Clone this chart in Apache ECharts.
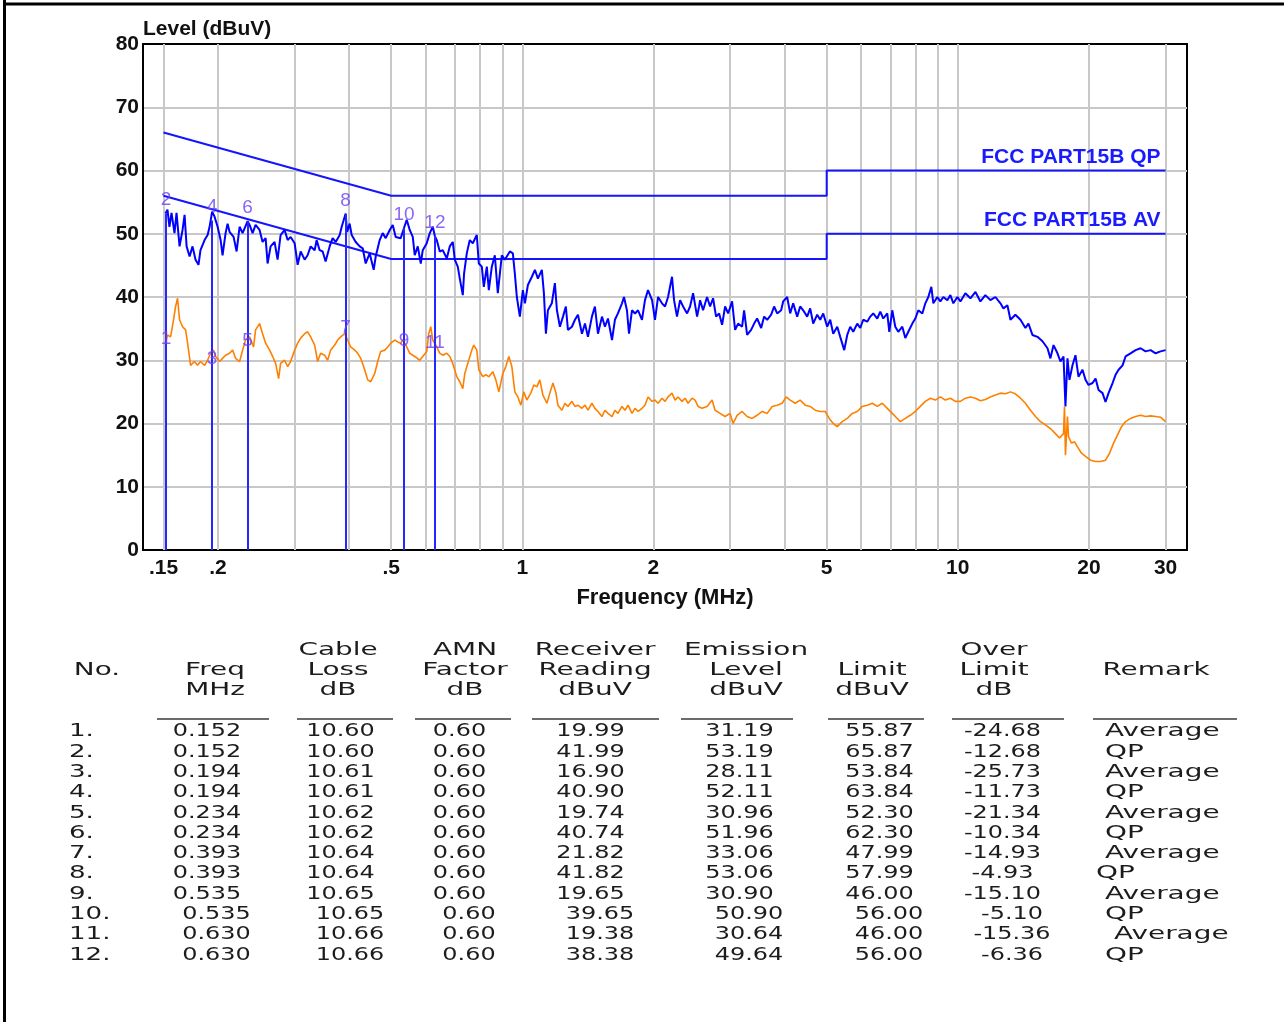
<!DOCTYPE html>
<html><head><meta charset="utf-8">
<script src="https://cdn.jsdelivr.net/npm/echarts@6/dist/echarts.min.js"></script>
<style>html,body{margin:0;padding:0;background:#fff;}#c{width:1284px;height:1022px;}</style>
</head><body><div id="c"></div>
<script>
// ---------- DATA ----------
const qpFreq = [
0.1516,0.1532,0.1548,0.1565,0.1590,0.1607,0.1633,0.1659,0.1677,0.1695,
0.1722,0.1749,0.1777,0.1805,0.1824,0.1864,0.1894,0.1914,0.1940,0.1965,
0.1997,0.2029,0.2050,0.2083,0.2105,0.2127,0.2173,0.2208,0.2243,0.2279,
0.2340,0.2365,0.2403,0.2441,0.2493,0.2533,0.2574,0.2601,0.2643,0.2699,
0.2742,0.2786,0.2846,0.2892,0.2938,0.3001,0.3049,0.3098,0.3164,0.3214,
0.3266,0.3336,0.3371,0.3425,0.3480,0.3535,0.3611,0.3669,0.3728,0.3808,
0.3849,0.3930,0.3960,0.4014,0.4057,0.4145,0.4233,0.4301,0.4369,0.4462,
0.4558,0.4607,0.4705,0.4780,0.4857,0.4961,0.5041,0.5121,0.5258,0.5350,
0.5428,0.5515,0.5604,0.5663,0.5754,0.5846,0.5908,0.6034,0.6131,0.6229,
0.6300,0.6362,0.6464,0.6568,0.6708,0.6815,0.6924,0.6998,0.7110,0.7186,
0.7301,0.7350,0.7456,0.7576,0.7697,0.7862,0.7946,0.8073,0.8159,0.8290,
0.8378,0.8512,0.8648,0.8786,0.8974,0.9118,0.9363,0.9513,0.9614,0.9716,
0.9872,1.003,1.014,1.030,1.052,1.069,1.086,1.109,1.121,1.133,
1.145,1.169,1.188,1.201,1.220,1.240,1.259,1.273,1.300,1.321,
1.342,1.371,1.393,1.415,1.445,1.468,1.492,1.524,1.548,1.573,
1.607,1.632,1.658,1.694,1.712,1.739,1.758,1.786,1.815,1.844,
1.883,1.913,1.944,1.986,2.017,2.050,2.093,2.127,2.161,2.207,
2.231,2.266,2.303,2.340,2.390,2.428,2.467,2.520,2.546,2.560,
2.601,2.656,2.699,2.742,2.786,2.831,2.876,2.922,2.969,3.032,
3.081,3.130,3.197,3.231,3.283,3.353,3.407,3.461,3.536,3.592,
3.650,3.728,3.787,3.848,3.930,3.972,4.057,4.122,4.188,4.278,
4.346,4.416,4.510,4.582,4.656,4.755,4.832,4.909,5.014,5.094,
5.176,5.287,5.371,5.486,5.574,5.663,5.754,5.877,5.971,6.067,
6.196,6.295,6.396,6.533,6.638,6.744,6.888,6.962,7.073,7.186,
7.301,7.458,7.577,7.698,7.863,7.989,8.117,8.291,8.423,8.558,
8.695,8.788,8.975,9.119,9.265,9.463,9.615,9.769,9.978,10.14,
10.41,10.69,10.98,11.27,11.57,11.88,12.20,12.53,12.73,13.00,
13.21,13.56,13.93,14.30,14.53,14.84,15.24,15.65,16.07,16.32,
16.59,16.94,17.21,17.49,17.67,17.86,18.05,18.34,18.63,18.93,
19.34,19.65,19.96,20.39,20.72,21.05,21.50,21.84,22.19,22.67,
23.03,23.40,23.90,24.28,24.93,25.60,26.29,26.99,27.72,28.46,
29.22,30.00];
const qpLevel = [
53.2,53.8,51.1,53.3,50.1,53.3,48.0,50.6,53.0,48.0,
46.4,48.0,45.9,45.1,47.4,49.0,49.8,51.1,53.5,52.7,
51.1,49.0,46.6,50.1,51.6,50.3,49.5,47.2,51.1,50.1,
52.0,51.4,50.1,51.4,50.6,48.7,49.3,45.3,48.0,48.7,
45.9,49.8,50.6,49.0,49.5,48.5,45.1,47.2,45.9,46.6,
48.0,47.4,49.0,47.4,47.2,45.6,48.0,49.3,48.7,49.8,
51.1,53.2,50.3,51.6,49.8,48.7,48.0,47.7,45.3,46.9,
44.3,46.4,49.0,50.1,49.3,50.6,51.4,49.5,49.3,50.9,
52.2,50.6,49.5,46.6,48.0,45.3,47.4,48.5,50.1,51.1,
49.6,49.0,47.2,47.4,46.1,48.0,48.7,45.9,44.8,42.9,
40.3,43.7,46.9,49.0,48.5,49.8,45.3,44.8,41.6,44.8,
41.1,44.8,46.6,40.6,46.6,45.9,47.2,46.9,43.7,40.0,
36.9,41.1,39.0,41.9,43.2,44.3,42.9,44.3,40.6,34.2,
37.9,39.0,42.2,37.9,35.3,36.9,38.5,34.8,35.3,36.4,
37.2,34.2,35.8,33.7,36.9,38.5,34.2,36.9,35.3,36.6,
33.2,36.4,37.4,39.0,40.0,37.9,34.2,37.9,37.4,37.9,
36.4,39.5,41.1,39.5,36.4,40.0,39.0,38.5,40.0,43.2,
39.5,36.9,39.5,38.5,37.4,38.5,40.6,36.9,38.5,39.5,
37.9,40.0,38.5,39.8,36.9,37.4,35.6,38.5,37.4,39.3,
34.8,35.8,35.3,37.9,34.0,34.8,35.8,36.6,35.1,36.9,
36.4,37.2,38.5,37.4,37.9,39.3,40.0,37.4,39.0,36.9,
38.5,37.9,36.9,38.2,35.8,37.2,36.4,37.4,35.3,36.4,
34.2,35.3,33.7,31.6,34.0,35.3,34.5,35.8,35.1,36.4,
36.1,36.9,37.4,36.6,37.7,36.6,37.4,34.5,37.9,35.3,
34.5,35.3,33.5,34.5,35.8,36.6,37.9,37.4,39.0,40.0,
41.6,39.0,40.0,39.3,40.0,39.5,40.3,39.0,40.0,39.3,
40.6,39.8,40.8,39.3,40.3,39.5,40.0,39.0,38.2,38.7,
36.4,37.2,36.4,35.1,35.8,34.0,33.7,33.0,31.9,30.3,
32.4,31.1,29.8,30.6,22.7,30.3,26.9,29.2,30.8,27.4,
28.5,26.9,26.1,26.4,27.1,25.3,24.8,23.4,24.8,26.4,
27.7,28.5,29.2,30.6,31.1,31.6,31.9,31.4,31.6,31.1,
31.4,31.6];
const avFreq = [
0.1516,0.1532,0.1557,0.1582,0.1599,0.1616,0.1633,0.1659,0.1686,0.1704,
0.1731,0.1767,0.1796,0.1824,0.1864,0.1894,0.1924,0.1955,0.1976,0.2018,
0.2050,0.2083,0.2127,0.2162,0.2196,0.2243,0.2279,0.2315,0.2365,0.2415,
0.2441,0.2493,0.2533,0.2574,0.2629,0.2671,0.2714,0.2757,0.2786,0.2846,
0.2892,0.2938,0.3001,0.3049,0.3098,0.3164,0.3214,0.3266,0.3336,0.3389,
0.3443,0.3517,0.3573,0.3630,0.3709,0.3768,0.3828,0.3910,0.3972,0.4036,
0.4123,0.4189,0.4256,0.4346,0.4416,0.4486,0.4582,0.4656,0.4730,0.4832,
0.4909,0.4987,0.5094,0.5175,0.5258,0.5314,0.5428,0.5515,0.5663,0.5815,
0.5908,0.6034,0.6098,0.6163,0.6229,0.6362,0.6464,0.6568,0.6708,0.6815,
0.6924,0.7072,0.7186,0.7301,0.7378,0.7496,0.7657,0.7738,0.7862,0.7946,
0.8116,0.8246,0.8378,0.8557,0.8694,0.8833,0.9022,0.9167,0.9313,0.9462,
0.9614,0.9768,0.9924,1.008,1.024,1.046,1.063,1.080,1.097,1.115,
1.139,1.157,1.176,1.195,1.207,1.233,1.253,1.273,1.300,1.321,
1.342,1.371,1.393,1.415,1.445,1.468,1.492,1.524,1.548,1.573,
1.607,1.632,1.658,1.694,1.721,1.749,1.786,1.815,1.844,1.883,
1.913,1.944,1.986,2.017,2.050,2.093,2.127,2.161,2.207,2.243,
2.278,2.327,2.365,2.402,2.454,2.493,2.533,2.587,2.656,2.728,
2.771,2.846,2.922,3.000,3.048,3.114,3.197,3.283,3.371,3.461,
3.554,3.650,3.748,3.848,3.951,4.036,4.122,4.233,4.346,4.463,
4.582,4.705,4.832,4.961,5.067,5.176,5.287,5.428,5.574,5.723,
5.877,6.035,6.196,6.363,6.533,6.708,6.888,7.073,7.263,7.379,
7.577,7.780,7.989,8.203,8.423,8.649,8.881,9.119,9.364,9.615,
9.873,10.14,10.41,10.69,10.98,11.27,11.57,11.88,12.20,12.53,
12.87,13.21,13.56,13.93,14.30,14.69,15.08,15.48,15.90,16.32,
16.76,17.12,17.49,17.58,17.67,17.86,17.96,18.24,18.54,18.83,
19.24,19.65,20.18,20.72,21.27,21.84,22.31,22.79,23.27,23.77,
24.28,24.93,25.60,26.29,26.99,27.72,28.46,29.22,30.00];
const avLevel = [
32.7,34.0,33.7,36.4,38.5,39.8,36.4,35.3,34.8,32.7,
29.2,29.8,29.2,29.8,29.2,30.0,31.1,31.6,30.6,29.8,
30.3,30.8,31.1,31.6,30.3,29.8,31.6,33.2,33.7,32.1,
34.8,35.8,34.2,32.7,31.6,30.6,29.5,27.1,29.5,30.0,
29.0,29.8,31.6,32.7,33.5,34.2,34.5,33.7,32.4,29.8,
31.1,30.8,30.0,31.6,32.4,33.2,33.7,34.2,33.2,32.1,
31.6,31.1,30.3,28.5,26.9,26.6,27.9,29.8,31.4,31.6,
32.1,32.7,33.2,32.9,32.7,33.2,32.1,31.1,30.6,30.0,
30.6,31.4,34.2,35.3,33.2,32.1,31.1,30.8,31.1,30.6,
29.5,27.4,26.6,25.5,27.9,29.5,31.6,32.4,31.6,28.5,
27.4,27.7,27.4,28.2,26.9,25.0,27.9,29.0,30.6,29.0,
25.0,24.2,22.9,25.0,23.7,24.8,26.1,25.8,26.9,24.5,
23.2,24.8,26.4,24.8,22.9,22.1,23.2,22.7,23.5,22.7,
22.9,22.4,22.9,22.1,23.2,22.4,21.9,21.1,22.1,21.6,
21.1,22.1,21.6,22.7,22.1,22.9,21.6,22.4,21.9,22.4,
22.9,24.2,23.5,23.7,23.2,24.0,23.5,24.2,24.8,23.7,
24.2,23.5,24.0,23.2,24.0,23.7,22.7,22.4,22.7,23.7,
22.1,21.6,21.1,21.6,20.0,21.3,21.9,21.1,20.8,21.3,
21.9,21.6,22.7,22.9,23.2,24.2,23.7,23.2,23.7,22.9,
22.7,22.1,21.9,21.9,20.8,20.0,19.5,20.3,20.8,21.6,
21.9,22.7,22.9,23.2,22.7,23.2,22.4,21.6,20.8,20.3,
20.8,21.3,21.9,22.7,23.5,24.0,23.7,24.2,23.7,24.0,
23.5,23.5,24.0,24.2,24.0,23.6,23.8,24.2,24.5,24.8,
24.7,25.0,24.7,24.0,23.2,22.1,21.1,20.3,19.8,19.2,
18.4,17.7,18.4,22.7,15.0,21.1,17.9,16.9,17.1,16.3,
15.3,14.8,14.2,14.0,14.0,14.2,15.3,16.9,18.2,19.5,
20.3,20.8,21.1,21.3,21.1,21.2,21.1,21.0,20.3];
const qpLimitFreq  = [0.15, 0.5, 5, 5, 30];
const qpLimitLevel = [66, 56, 56, 60, 60];
const avLimitFreq  = [0.15, 0.5, 5, 5, 30];
const avLimitLevel = [56, 46, 46, 50, 50];
const limitNames = ['FCC PART15B QP', 'FCC PART15B AV'];
const gridFreqs  = [0.15,0.2,0.3,0.4,0.5,0.6,0.7,0.8,0.9,1,2,3,4,5,6,7,8,9,10,20,30];
const xTickFreqs = [0.15,0.2,0.5,1,2,5,10,20,30];
const xTickLabels = ['.15','.2','.5','1','2','5','10','20','30'];
const xTitle = 'Frequency (MHz)';
const yTitle = 'Level (dBuV)';
// table
const colHeaders = [['','No.',''],['','Freq','MHz'],['Cable','Loss','dB'],['AMN','Factor','dB'],['Receiver','Reading','dBuV'],['Emission','Level','dBuV'],['','Limit','dBuV'],['Over','Limit','dB'],['','Remark','']];
const tNo      = ['1.','2.','3.','4.','5.','6.','7.','8.','9.','10.','11.','12.'];
const tFreq    = [0.152,0.152,0.194,0.194,0.234,0.234,0.393,0.393,0.535,0.535,0.630,0.630];
const tCable   = [10.60,10.60,10.61,10.61,10.62,10.62,10.64,10.64,10.65,10.65,10.66,10.66];
const tAmn     = [0.60,0.60,0.60,0.60,0.60,0.60,0.60,0.60,0.60,0.60,0.60,0.60];
const tReading = [19.99,41.99,16.90,40.90,19.74,40.74,21.82,41.82,19.65,39.65,19.38,38.38];
const tLevel   = [31.19,53.19,28.11,52.11,30.96,51.96,33.06,53.06,30.90,50.90,30.64,49.64];
const tLimit   = [55.87,65.87,53.84,63.84,52.30,62.30,47.99,57.99,46.00,56.00,46.00,56.00];
const tOver    = [-24.68,-12.68,-25.73,-11.73,-21.34,-10.34,-14.93,-4.93,-15.10,-5.10,-15.36,-6.36];
const tRemark  = ['Average','QP','Average','QP','Average','QP','Average','QP','Average','QP','Average','QP'];

// ---------- BUILD ----------
const zip = (a, b) => a.map((v, i) => [v, b[i]]);
const AXF = '"Liberation Sans", Arial, sans-serif';
const qpMarks = [], avMarks = [], markLines = [];
tFreq.forEach((f, i) => {
  const item = [f, tLevel[i], String(i + 1)];
  if (tRemark[i] === 'QP') { qpMarks.push(item); markLines.push([{coord:[f, tLevel[i]]}, {coord:[f, 0]}]); }
  else avMarks.push(item);
});

const g = [];
// outer frame
g.push({type:'line', silent:true, shape:{x1:4.5,y1:0,x2:4.5,y2:1022}, style:{stroke:'#000', lineWidth:3}});
g.push({type:'line', silent:true, shape:{x1:3,y1:4,x2:1284,y2:4}, style:{stroke:'#000', lineWidth:3}});
const TF = '18px "DejaVu Sans", sans-serif';
function txt(x, y, s, sx, align) {
  g.push({type:'text', x:x, y:y, scaleX:sx, silent:true,
    style:{text:s, font:TF, fill:'#1c1c1c', align:align, verticalAlign:'middle', textAlign:align, textVerticalAlign:'middle'}});
}
const headCenters = [97, 215, 338, 465, 595, 746, 872, 994, 1156];
const headY = [650, 670, 690];
colHeaders.forEach((lines, c) => lines.forEach((s, r) => { if (s) txt(headCenters[c], headY[r], s, 1.55, 'center'); }));
const ulines = [[157,269],[297,393],[415,511],[532,659],[681,793],[828,924],[952,1064],[1093,1237]];
ulines.forEach(u => g.push({type:'line', silent:true, shape:{x1:u[0],y1:719,x2:u[1],y2:719}, style:{stroke:'#3a3a3a', lineWidth:1.5}}));
const numCenters = [207, 340.5, 459.5, 590.5, 739.5, 879.5, 1002.5];
const cols = [tFreq.map(v=>v.toFixed(3)), tCable.map(v=>v.toFixed(2)), tAmn.map(v=>v.toFixed(2)), tReading.map(v=>v.toFixed(2)), tLevel.map(v=>v.toFixed(2)), tLimit.map(v=>v.toFixed(2)), tOver.map(v=>v.toFixed(2))];
const remarkShift = [0,0,0,0,0,0,0,-9,0,0,9,0];
tNo.forEach((no, i) => {
  const y = 731.7 + 20.3 * i;
  const sh = i >= 9 ? 9.5 : 0;
  txt(69, y, no, 1.45, 'left');
  cols.forEach((col, c) => txt(numCenters[c] + sh, y, col[i], 1.33, 'center'));
  txt(1105 + remarkShift[i], y, tRemark[i], 1.55, 'left');
});

const option = {
  animation: false,
  backgroundColor: '#fff',
  textStyle: {fontFamily: AXF},
  grid: {left:143, top:44, width:1044, height:506, show:true, borderColor:'#000', borderWidth:2, backgroundColor:'#fff'},
  xAxis: {
    type:'log', logBase:10, min:0.1346, max:33.6,
    axisLine:{show:true, lineStyle:{color:'#000', width:2}},
    axisTick:{show:false}, axisLabel:{show:false}, splitLine:{show:false},
    name:xTitle, nameLocation:'middle', nameGap:37,
    nameTextStyle:{color:'#111', fontSize:22, fontWeight:'bold', fontFamily:AXF}
  },
  yAxis: {
    type:'value', min:0, max:80, interval:10,
    axisLine:{show:true, lineStyle:{color:'#000', width:2}},
    axisTick:{show:false},
    axisLabel:{color:'#111', fontSize:21, fontWeight:'bold', fontFamily:AXF, margin:4},
    splitLine:{show:true, showMinLine:false, showMaxLine:false, lineStyle:{color:'#c8c8c8', width:2}},
    name:yTitle, nameLocation:'end', nameGap:4, nameMoveOverlap:false,
    nameTextStyle:{color:'#111', fontSize:21, fontWeight:'bold', fontFamily:AXF, align:'left', verticalAlign:'bottom'}
  },
  series: [
    {type:'line', name:'QP limit', data:zip(qpLimitFreq, qpLimitLevel), symbol:'none', silent:true, z:3,
     lineStyle:{color:'#1414ff', width:2},
     markLine:{silent:true, symbol:'none', z:1, animation:false,
       lineStyle:{color:'#c8c8c8', width:2, type:'solid'},
       label:{show:true, position:'start', formatter:'{b}', color:'#111', fontSize:21, fontWeight:'bold', fontFamily:AXF, distance:8},
       emphasis:{disabled:true},
       data: gridFreqs.map(f => { const k = xTickFreqs.indexOf(f); return {xAxis:f, name: k >= 0 ? xTickLabels[k] : ''}; })}},
    {type:'line', name:'AV limit', data:zip(avLimitFreq, avLimitLevel), symbol:'none', silent:true, z:3,
     lineStyle:{color:'#1414ff', width:2}},
    {type:'line', name:'labels', data:[], silent:true,
     markLine:{silent:true, symbol:'none', z:6, animation:false, lineStyle:{color:'rgba(0,0,0,0)', width:1},
       label:{show:true, position:'insideEndTop', formatter:'{b}', color:'#1a1aff', fontSize:21, fontWeight:'bold', fontFamily:AXF, distance:[5,3]},
       emphasis:{disabled:true},
       data:[[{coord:[5, qpLimitLevel[4]], name:limitNames[0]}, {coord:[30, qpLimitLevel[4]]}],
             [{coord:[5, avLimitLevel[4]], name:limitNames[1]}, {coord:[30, avLimitLevel[4]]}]]}},
    {type:'line', name:'QP', data:zip(qpFreq, qpLevel), symbol:'none', silent:true, z:4,
     lineStyle:{color:'#0000ff', width:2}},
    {type:'line', name:'AV', data:zip(avFreq, avLevel), symbol:'none', silent:true, z:4,
     lineStyle:{color:'#ff8000', width:1.6}},
    {type:'scatter', name:'QP marks', data:qpMarks, symbolSize:0.1, silent:true, z:7,
     itemStyle:{color:'rgba(0,0,0,0)'},
     label:{show:true, position:'top', distance:4, formatter:p => p.data[2], color:'#6c40f5', fontSize:19, fontFamily:AXF},
     markLine:{silent:true, symbol:'none', z:6, animation:false, label:{show:false},
       lineStyle:{color:'#2626ff', width:2, type:'solid'}, emphasis:{disabled:true}, data:markLines}},
    {type:'scatter', name:'AV marks', data:avMarks, symbolSize:0.1, silent:true, z:7,
     itemStyle:{color:'rgba(0,0,0,0)'},
     label:{show:true, position:'top', distance:4, formatter:p => p.data[2], color:'#6c40f5', fontSize:19, fontFamily:AXF}}
  ],
  graphic: g
};
const chart = echarts.init(document.getElementById('c'));
chart.setOption(option);
</script>
</body></html>
